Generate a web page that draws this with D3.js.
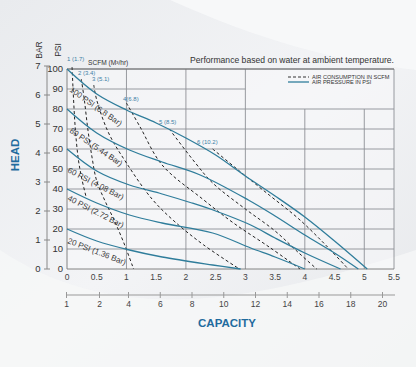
<!DOCTYPE html>
<html><head><meta charset="utf-8">
<script src="https://d3js.org/d3.v7.min.js"></script>
<style>
html,body{margin:0;padding:0;background:#eef0f2;}
svg{display:block;font-family:"Liberation Sans",Arial,sans-serif;}
</style></head><body>
<svg id="c" width="416" height="367"></svg>
<script>
// ---- data ----
const capTicks = [0,0.5,1,1.5,2,2.5,3,3.5,4,4.5,5,5.5];      // upper capacity scale
const lpmTicks = [1,2,4,6,8,10,12,14,16,18,20];              // lower capacity scale
const psiTicks = [0,10,20,30,40,50,60,70,80,90,100];
const barTicks = [0,1,2,3,4,5,6,7];
const pressureNames = ["100 PSI (6.8 Bar)","80 PSI (5.44 Bar)","60 PSI (4.08 Bar)","40 PSI (2.72 Bar)","20 PSI (1.36 Bar)"];
const p100 = [[0,100],[0.5,87.5],[1,79.5],[1.5,73],[2,65.5],[2.5,57],[3,46.5],[3.5,36.5],[4,26],[4.5,14],[5.05,0]];
const p80  = [[0,80],[0.5,68],[1.05,59.5],[1.6,53.5],[2.24,47],[3.05,34.5],[3.5,26.5],[4,17],[4.5,8],[4.9,0]];
const p60  = [[0,60],[0.5,49],[1.05,42],[1.6,37.5],[2.1,33],[2.5,29],[3.09,22],[3.5,15.5],[4,8],[4.6,0]];
const p40  = [[0,40],[0.5,33],[1.05,27],[1.6,23],[2.45,18],[3.09,10.5],[3.5,6],[4.0,0]];
const p20  = [[0,20],[0.5,14],[1.05,9.5],[1.6,6],[2.45,2],[2.92,0]];
const scfmNames = ["1 (1.7)","2 (3.4)","3 (5.1)","4(6.8)","5 (8.5)","6 (10.2)"];
const d1 = [[0.085,101],[0.11,85],[0.14,70],[0.19,55],[0.25,45],[0.33,35]];
const d2 = [[0.24,95],[0.29,85],[0.35,70],[0.42,56],[0.5,44],[0.64,34],[0.8,24],[0.97,12],[1.12,0]];
const d3c = [[0.45,92],[0.5,84.5],[0.7,68],[1.0,53],[1.43,35],[1.8,24],[2.3,12],[2.9,0]];
const d4 = [[1.0,83],[1.23,71],[1.6,52],[2.28,35],[2.8,23],[3.4,11],[3.92,0]];
const d5 = [[1.72,70],[2.16,53],[2.45,43],[3.0,30],[3.5,19],[3.9,8],[4.2,0]];
const d6 = [[2.45,60],[2.9,49],[3.4,37],[3.9,25],[4.35,12],[4.73,0]];
const pressureCurves = [p100,p80,p60,p40,p20];
const scfmCurves = [d1,d2,d3c,d4,d5,d6];
const psiPerBar = 14.5;

// ---- layout ----
const svg = d3.select("#c");
const x = d3.scaleLinear([0,5.5],[67,394]);
const y = d3.scaleLinear([0,100],[269,69]);
const yBar = d3.scaleLinear([0,7],[y(0), y(7*psiPerBar)]);
const xb = d3.scaleLinear([1,2,4,20],[66,99,128,382]);
const blue = "#2f7d9b", lblBlue = "#3d7fa6", txt = "#333";

// background
const defs = svg.append("defs");
const g1 = defs.append("linearGradient").attr("id","bg").attr("x1","0").attr("y1","0").attr("x2","1").attr("y2","1");
g1.append("stop").attr("offset","0").attr("stop-color","#e9ebee");
g1.append("stop").attr("offset","0.5").attr("stop-color","#f3f4f6");
g1.append("stop").attr("offset","1").attr("stop-color","#e6e8eb");
svg.append("rect").attr("width",416).attr("height",367).attr("fill","url(#bg)");
svg.append("path").attr("d","M0,250 C120,330 260,300 416,250 L416,367 L0,367 Z").attr("fill","#f6f7f8").attr("opacity",0.8);
svg.append("path").attr("d","M170,0 C260,40 330,60 416,70 L416,0 Z").attr("fill","#f7f8f9").attr("opacity",0.9);
svg.append("rect").attr("x",x(0)).attr("y",y(100)).attr("width",x(5.5)-x(0)).attr("height",y(0)-y(100)).attr("fill","#f7f8f9").attr("opacity",0.55);

// grid
const grid = svg.append("g").attr("stroke","#8d9095").attr("stroke-width",0.9).attr("fill","none");
psiTicks.forEach(p=>{
  if(p===90){
    grid.append("line").attr("x1",x(0)).attr("x2",x(3)).attr("y1",y(p)).attr("y2",y(p));
  } else if(p>0) {
    grid.append("line").attr("x1",x(0)).attr("x2",x(5.5)).attr("y1",y(p)).attr("y2",y(p));
  }
});
[1,2,3,4,5,5.5].forEach(v=>{
  const top = (v>3 && v<5.5) ? y(80) : y(100);
  grid.append("line").attr("x1",x(v)).attr("x2",x(v)).attr("y1",top).attr("y2",y(0));
});
grid.append("line").attr("x1",x(0)).attr("x2",x(0)).attr("y1",y(100)).attr("y2",y(0)).attr("stroke","#777");
grid.append("line").attr("x1",x(0)).attr("x2",x(5.5)).attr("y1",y(0)).attr("y2",y(0)).attr("stroke","#777");
grid.append("line").attr("x1",x(0)).attr("x2",x(5.5)).attr("y1",y(100)).attr("y2",y(100)).attr("stroke","#666");

// PSI labels
svg.append("g").selectAll("text").data(psiTicks).join("text")
  .attr("x",x(0)-4).attr("y",d=>y(d)).attr("dy","0.35em").attr("text-anchor","end")
  .attr("font-size",9.5).attr("fill",txt).text(d=>d);
// BAR axis
const bx = 47;
svg.append("line").attr("x1",bx).attr("x2",bx).attr("y1",yBar(7)).attr("y2",yBar(0)).attr("stroke","#888");
svg.append("g").selectAll("line").data(barTicks).join("line")
  .attr("x1",bx-3).attr("x2",bx+3).attr("y1",d=>yBar(d)).attr("y2",d=>yBar(d)).attr("stroke","#888");
svg.append("g").selectAll("text").data(barTicks).join("text")
  .attr("x",38).attr("y",d=>yBar(d)).attr("dy","0.35em").attr("text-anchor","middle")
  .attr("font-size",9.5).attr("fill",txt).text(d=>d);
svg.append("text").attr("transform","translate(42,50) rotate(-90)").attr("text-anchor","middle")
  .attr("font-size",8.5).attr("fill",txt).text("BAR");
svg.append("text").attr("transform","translate(61,50) rotate(-90)").attr("text-anchor","middle")
  .attr("font-size",8.5).attr("fill",txt).text("PSI");
svg.append("text").attr("transform","translate(19,155) rotate(-90)").attr("text-anchor","middle")
  .attr("font-size",11.5).attr("font-weight","bold").attr("fill","#1f6b9e").text("HEAD");

// upper x labels
svg.append("g").selectAll("text").data(capTicks).join("text")
  .attr("x",d=>x(d)).attr("y",277).attr("dy","0.35em").attr("text-anchor","middle")
  .attr("font-size",8.5).attr("fill","#444").text(d=>d);
// lower axis
const ax = d3.axisBottom(xb).tickValues(lpmTicks).tickSize(0).tickFormat(d3.format("d"));
const ag = svg.append("g").attr("transform","translate(0,295)").call(ax);
ag.select(".domain").attr("stroke","#999").attr("d",`M66,0H395`);
ag.selectAll(".tick").append("line").attr("y1",-3).attr("y2",3).attr("stroke","#999");
ag.selectAll("text").attr("font-size",8.5).attr("fill","#444").attr("dy","1.05em").attr("font-family","Liberation Sans, Arial, sans-serif");
svg.append("text").attr("x",227).attr("y",327).attr("text-anchor","middle")
  .attr("font-size",11.5).attr("font-weight","bold").attr("fill","#1f6b9e").text("CAPACITY");

// curves
const line = d3.line().x(d=>x(d[0])).y(d=>y(d[1])).curve(d3.curveCatmullRom.alpha(0.5));
svg.append("g").selectAll("path").data(scfmCurves).join("path")
  .attr("d",line).attr("fill","none").attr("stroke","#222").attr("stroke-width",1)
  .attr("stroke-dasharray","3,2.5");
svg.append("g").selectAll("path").data(pressureCurves).join("path")
  .attr("d",line).attr("fill","none").attr("stroke",blue).attr("stroke-width",1.3);

// pressure labels
const plPos = [[69,91,35],[69,132,34],[67,172,27],[67,200,27],[67,243,21]];
svg.append("g").selectAll("text").data(pressureNames).join("text")
  .attr("transform",(d,i)=>`translate(${plPos[i][0]},${plPos[i][1]}) rotate(${plPos[i][2]})`)
  .attr("font-size",8).attr("fill","#3a3a3a").text(d=>d);
// SCFM labels
const slPos = [[67,59],[78,73],[92,79],[123,99],[159,122],[197,142]];
svg.append("g").selectAll("text").data(scfmNames).join("text")
  .attr("x",(d,i)=>slPos[i][0]).attr("y",(d,i)=>slPos[i][1]).attr("dy","0.35em")
  .attr("font-size",6).attr("fill",lblBlue).text(d=>d);
svg.append("text").attr("x",88).attr("y",63).attr("dy","0.35em").attr("font-size",6.6).attr("fill",txt)
  .text("SCFM (M³/hr)");

// title and legend
svg.append("text").attr("x",394).attr("y",60).attr("dy","0.35em").attr("text-anchor","end")
  .attr("font-size",8.6).attr("fill",txt).text("Performance based on water at ambient temperature.");
svg.append("line").attr("x1",288).attr("x2",309).attr("y1",77).attr("y2",77).attr("stroke","#333").attr("stroke-dasharray","3,2");
svg.append("line").attr("x1",288).attr("x2",309).attr("y1",82).attr("y2",82).attr("stroke",blue).attr("stroke-width",1.3);
svg.append("text").attr("x",312).attr("y",77).attr("dy","0.35em").attr("font-size",5.6).attr("fill",txt).text("AIR CONSUMPTION IN SCFM");
svg.append("text").attr("x",312).attr("y",82.5).attr("dy","0.35em").attr("font-size",5.6).attr("fill",txt).text("AIR PRESSURE IN PSI");
</script></body></html>
